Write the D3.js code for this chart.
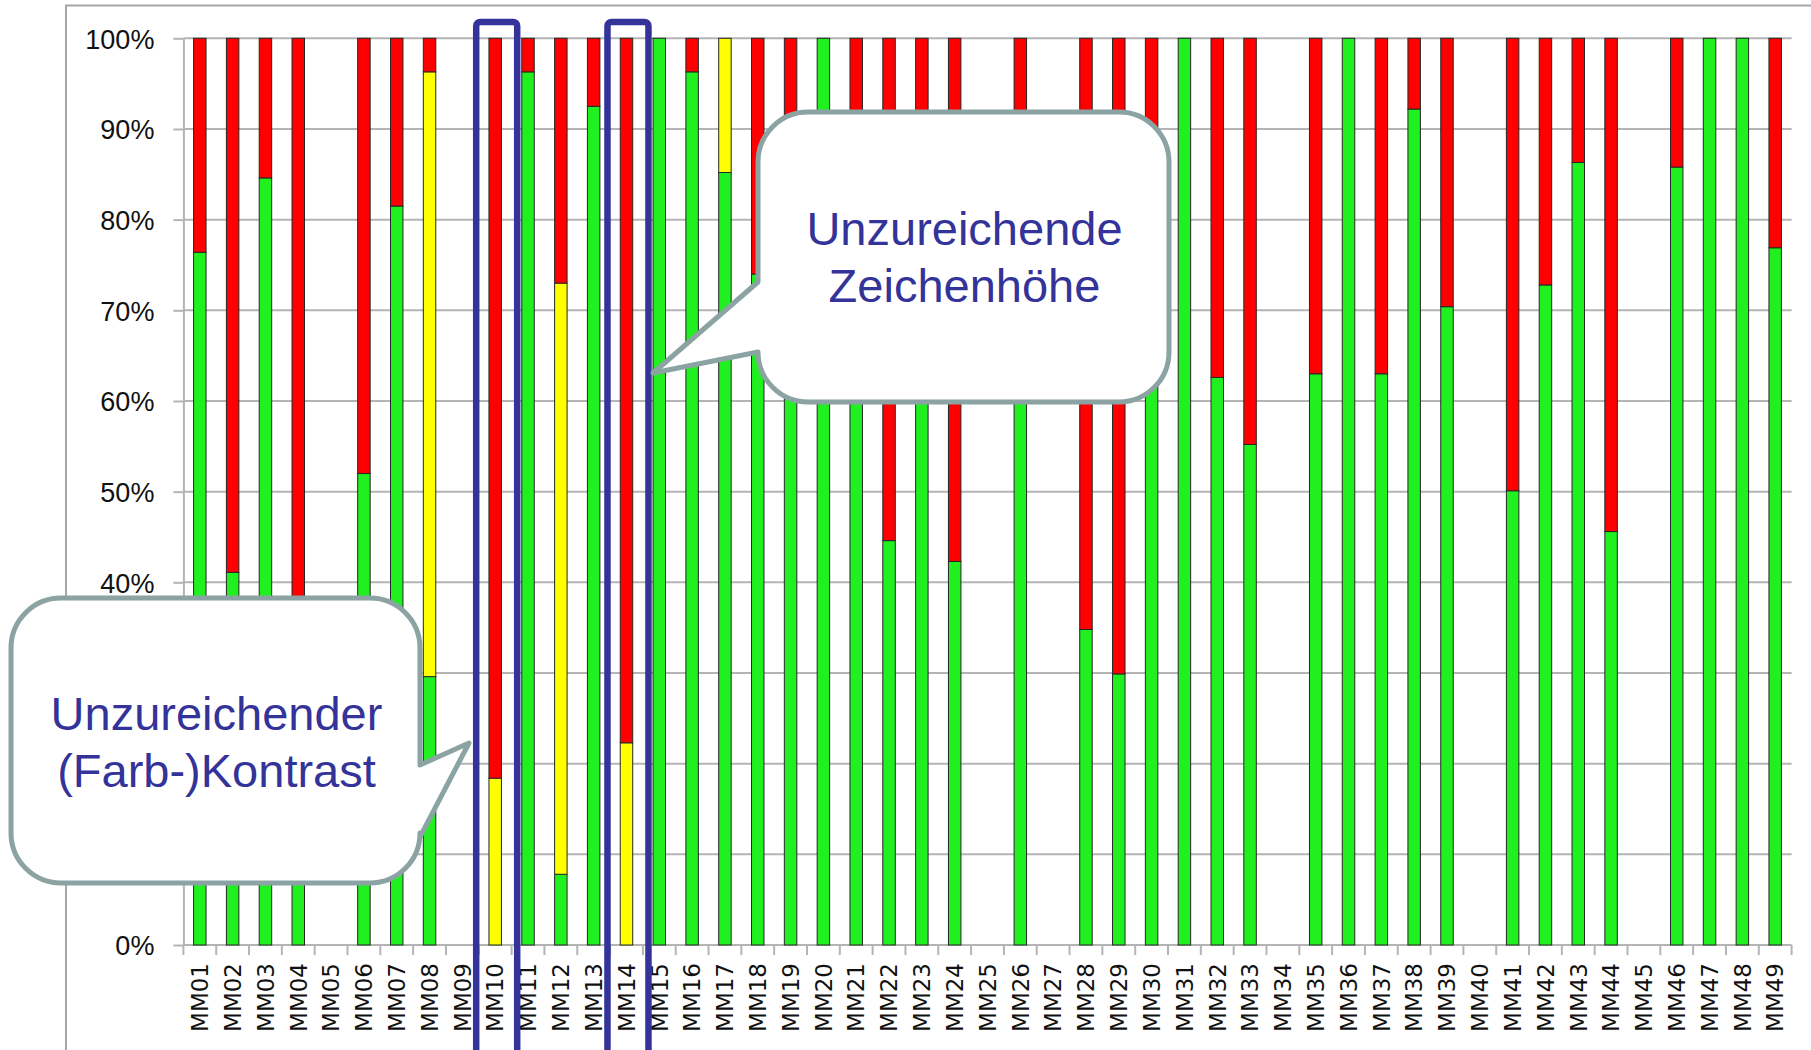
<!DOCTYPE html>
<html>
<head>
<meta charset="utf-8">
<title>MM Bewertung</title>
<script src="https://d3js.org/d3.v7.min.js"></script>
<style>
  html, body { margin: 0; padding: 0; background: #fff; }
  svg { display: block; }
  .grid line { stroke: #b4b4b4; stroke-width: 2px; }
  .yaxis text { font-family: "Liberation Sans", Arial, sans-serif; font-size: 27px; fill: #111; }
  .yaxis path, .yaxis line { stroke: #b4b4b4; stroke-width: 2px; }
  .xlab { font-family: "DejaVu Sans", sans-serif; font-size: 23px; fill: #111; }
  .bar { stroke: #262626; stroke-width: 1px; }
  .callout path { fill: #fff; stroke: #8ca3a3; stroke-width: 5px; stroke-linejoin: round; }
  .callout text { font-family: "Liberation Sans", Arial, sans-serif; font-size: 47px; fill: #333399; text-anchor: middle; }
</style>
</head>
<body>
<script>

// categories on the x axis
var categories = ["MM01","MM02","MM03","MM04","MM05","MM06","MM07","MM08","MM09","MM10",
                  "MM11","MM12","MM13","MM14","MM15","MM16","MM17","MM18","MM19","MM20",
                  "MM21","MM22","MM23","MM24","MM25","MM26","MM27","MM28","MM29","MM30",
                  "MM31","MM32","MM33","MM34","MM35","MM36","MM37","MM38","MM39","MM40",
                  "MM41","MM42","MM43","MM44","MM45","MM46","MM47","MM48","MM49"];

// percentage shares (null = no data)
var green  = [76.4, 41.1, 84.6, 35, null, 52, 81.5, 29.6, null, 0,
              96.3, 7.8, 92.5, 0, 100, 96.3, 85.2, 74, 80, 100,
              75, 44.6, 82, 42.3, null, 88, null, 34.8, 29.9, 65,
              100, 62.6, 55.2, null, 63, 100, 63, 92.2, 70.4, null,
              50.1, 72.8, 86.3, 45.6, null, 85.8, 100, 100, 76.9];
var yellow = [0, 0, 0, 0, null, 0, 0, 66.7, null, 18.4,
              0, 65.2, 0, 22.3, 0, 0, 14.8, 0, 0, 0,
              0, 0, 0, 0, null, 0, null, 0, 0, 0,
              0, 0, 0, null, 0, 0, 0, 0, 0, null,
              0, 0, 0, 0, null, 0, 0, 0, 0];
var red    = [23.6, 58.9, 15.4, 65, null, 48, 18.5, 3.7, null, 81.6,
              3.7, 27, 7.5, 77.7, 0, 3.7, 0, 26, 20, 0,
              25, 55.4, 18, 57.7, null, 12, null, 65.2, 70.1, 35,
              0, 37.4, 44.8, null, 37, 0, 37, 7.8, 29.6, null,
              49.9, 27.2, 13.7, 54.4, null, 14.2, 0, 0, 23.1];

var yTicks = [0, 10, 20, 30, 40, 50, 60, 70, 80, 90, 100];

// highlighted columns and callouts
var highlighted = ["MM10", "MM14"];
var callouts = [
  {lines: ["Unzureichender", "(Farb-)Kontrast"], x0: 11, y0: 598, x1: 420, y1: 883, side: "right",
   baseA: 765, baseB: 837, tip: [469, 743], textY: [730, 787]},
  {lines: ["Unzureichende", "Zeichenhöhe"], x0: 758, y0: 112, x1: 1169, y1: 402, side: "left",
   baseA: 282, baseB: 352, tip: [653, 373], textY: [245, 302]}
];

var width = 1811, height = 1050;
var plotLeft = 183.4, plotRight = 1791.6, plotTop = 38.3, plotBottom = 945;

var svg = d3.select("body").append("svg")
    .attr("width", width)
    .attr("height", height);

// outer frame (top and left edges visible)
svg.append("rect")
    .attr("x", 66).attr("y", 5.5)
    .attr("width", width).attr("height", height)
    .attr("fill", "none").attr("stroke", "#a6a6a6").attr("stroke-width", 2);

var x = d3.scaleBand()
    .domain(categories)
    .range([plotLeft, plotRight])
    .paddingInner(0.62)
    .paddingOuter(0.31);

var y = d3.scaleLinear()
    .domain([0, 100])
    .range([plotBottom, plotTop]);

// gridlines
svg.append("g").attr("class", "grid")
  .selectAll("line").data(yTicks).enter().append("line")
    .attr("x1", plotLeft).attr("x2", plotRight)
    .attr("y1", function(d){ return y(d); })
    .attr("y2", function(d){ return y(d); });

// y axis
var yAxis = svg.append("g")
    .attr("class", "yaxis")
    .attr("transform", "translate(" + plotLeft + ",0)")
    .call(d3.axisLeft(y).tickValues(yTicks).tickFormat(function(d){ return d + "%"; })
          .tickSize(10).tickSizeOuter(0).tickPadding(19));
yAxis.selectAll("text").attr("dy", "0.36em");

// x axis ticks on band boundaries
var step = x.step();
var bounds = d3.range(categories.length + 1).map(function(i){ return x(categories[0]) - step * x.paddingInner() / 2 + i * step; });
svg.append("g").attr("class", "grid")
  .selectAll("line").data(bounds).enter().append("line")
    .attr("x1", function(d){ return d; }).attr("x2", function(d){ return d; })
    .attr("y1", plotBottom).attr("y2", plotBottom + 10);

// stacked bars
var rows = categories.map(function(c, i){
  return {cat: c, segs: [
    {v: green[i], color: "#20f020"},
    {v: yellow[i], color: "#ffff00"},
    {v: red[i], color: "#ff0000"}
  ]};
});

var barG = svg.append("g");
rows.forEach(function(r){
  if (r.segs[0].v === null) return;
  var acc = 0;
  r.segs.forEach(function(s){
    if (s.v > 0) {
      barG.append("rect")
        .attr("class", "bar")
        .attr("x", x(r.cat))
        .attr("width", x.bandwidth())
        .attr("y", y(acc + s.v))
        .attr("height", y(acc) - y(acc + s.v))
        .attr("fill", s.color);
    }
    acc += s.v;
  });
});

// x labels
svg.append("g").selectAll("text").data(categories).enter().append("text")
    .attr("class", "xlab")
    .attr("transform", function(d){ return "translate(" + (x(d) + x.bandwidth() / 2) + "," + (plotBottom + 18) + ") rotate(-90)"; })
    .attr("text-anchor", "end")
    .attr("dy", "0.36em")
    .text(function(d){ return d; });

// highlight boxes
svg.append("g").selectAll("rect").data(highlighted).enter().append("rect")
    .attr("x", function(d){ return x(d) + x.bandwidth() / 2 + 1.5 - 20.5; })
    .attr("y", 22)
    .attr("width", 41)
    .attr("height", height)
    .attr("rx", 4)
    .attr("fill", "none")
    .attr("stroke", "#333399")
    .attr("stroke-width", 6.5);

// callouts
function calloutPath(c){
  var r = 50, p = d3.path();
  p.moveTo(c.x0 + r, c.y0);
  p.lineTo(c.x1 - r, c.y0);
  p.arcTo(c.x1, c.y0, c.x1, c.y0 + r, r);
  if (c.side === "right") {
    p.lineTo(c.x1, c.baseA);
    p.lineTo(c.tip[0], c.tip[1]);
    p.lineTo(c.x1, c.baseB);
  }
  p.lineTo(c.x1, c.y1 - r);
  p.arcTo(c.x1, c.y1, c.x1 - r, c.y1, r);
  p.lineTo(c.x0 + r, c.y1);
  p.arcTo(c.x0, c.y1, c.x0, c.y1 - r, r);
  if (c.side === "left") {
    p.lineTo(c.x0, c.baseB);
    p.lineTo(c.tip[0], c.tip[1]);
    p.lineTo(c.x0, c.baseA);
  }
  p.lineTo(c.x0, c.y0 + r);
  p.arcTo(c.x0, c.y0, c.x0 + r, c.y0, r);
  p.closePath();
  return p.toString();
}

var cg = svg.selectAll(".callout").data(callouts).enter().append("g").attr("class", "callout");
cg.append("path").attr("d", calloutPath);
cg.each(function(c){
  var g = d3.select(this);
  c.lines.forEach(function(t, i){
    g.append("text")
      .attr("x", (c.x0 + c.x1) / 2 + 1)
      .attr("y", c.textY[i])
      .text(t);
  });
});

</script>
</body>
</html>
